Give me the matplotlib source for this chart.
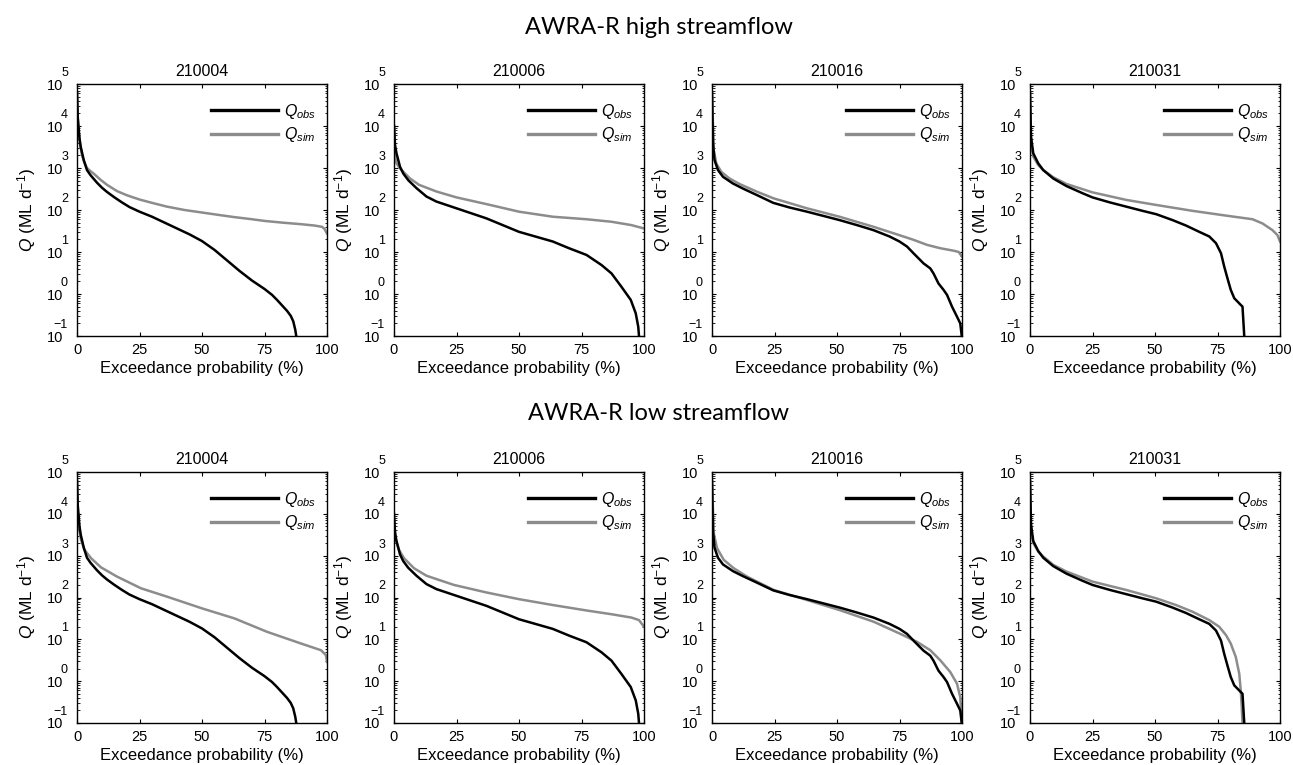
import numpy as np
import matplotlib
matplotlib.use("Agg")
import matplotlib.pyplot as plt
from matplotlib.ticker import FixedLocator, LogLocator, NullFormatter

plt.rcParams['font.family'] = ['Liberation Sans', 'DejaVu Sans']
plt.rcParams['mathtext.fontset'] = 'custom'
plt.rcParams['mathtext.rm'] = 'Liberation Sans'
plt.rcParams['mathtext.it'] = 'Liberation Sans:italic'

stations = ["210004", "210006", "210016", "210031"]
section_titles = ["AWRA-R high streamflow", "AWRA-R low streamflow"]
x_ticks = [0, 25, 50, 75, 100]
y_exponents = [-1, 0, 1, 2, 3, 4, 5]

# Observed flow-duration curves (exceedance %, log10 Q in ML/d)
obs_x = {
    "210004": [0, 0.3, 1, 1.5, 2.7, 4, 5.4, 8, 10, 12, 15, 18, 21, 25, 30, 35, 40, 45, 50, 55, 60, 65, 70, 75, 78, 80, 82, 84, 85.5, 86.5, 87.3, 87.7, 88],
    "210006": [0, 0.4, 1, 2.4, 3.7, 5.7, 9, 13, 17, 25, 37, 50, 63.5, 70, 77, 83, 87, 91, 94.7, 96.7, 97.7, 98, 98.3],
    "210016": [0, 0.4, 1, 2.4, 4.4, 8.4, 12.4, 17.8, 24.5, 31, 38, 44.5, 51, 58, 64.6, 71, 75, 78, 80.6, 84.6, 87.3, 88.6, 90.6, 92.6, 94, 96, 98, 99.3, 100],
    "210031": [0, 0.4, 1.3, 3.3, 5.3, 9.3, 14.6, 21, 25, 32, 38.5, 45, 50.5, 57, 62.4, 67.7, 71.7, 74.4, 76.4, 77.7, 79, 80.3, 81.7, 84.3, 85, 85.4, 85.7, 86],
}
obs_logq = {
    "210004": [4.78, 4.2, 3.7, 3.5, 3.19, 2.95, 2.83, 2.65, 2.53, 2.43, 2.3, 2.18, 2.07, 1.96, 1.84, 1.7, 1.56, 1.42, 1.26, 1.05, 0.8, 0.55, 0.32, 0.12, -0.02, -0.14, -0.27, -0.4, -0.52, -0.65, -0.85, -1.0, -1.3],
    "210006": [4.0, 3.55, 3.35, 3.03, 2.87, 2.71, 2.52, 2.32, 2.2, 2.04, 1.8, 1.48, 1.25, 1.09, 0.93, 0.69, 0.49, 0.17, -0.14, -0.46, -0.78, -1.0, -1.3],
    "210016": [4.78, 3.59, 3.19, 2.95, 2.79, 2.63, 2.51, 2.36, 2.17, 2.06, 1.96, 1.86, 1.76, 1.64, 1.52, 1.37, 1.25, 1.13, 0.97, 0.73, 0.61, 0.49, 0.25, 0.1, -0.02, -0.3, -0.54, -0.7, -1.05],
    "210031": [4.78, 3.75, 3.35, 3.11, 2.95, 2.75, 2.57, 2.4, 2.3, 2.18, 2.08, 1.98, 1.9, 1.76, 1.63, 1.48, 1.37, 1.21, 0.97, 0.65, 0.37, 0.1, -0.1, -0.26, -0.3, -0.7, -1.0, -1.3],
}

# Simulated flow-duration curves, high-streamflow calibration
sim_high_x = {
    "210004": [0, 0.3, 0.7, 1.3, 2, 3, 4, 5.5, 7, 9.4, 12, 16, 20, 25, 30, 36, 43, 50, 57, 63, 70, 75, 82, 90, 95, 98, 99, 100],
    "210006": [0, 0.4, 1, 2.4, 4.4, 6.4, 10, 17, 25, 37, 50, 63.5, 77, 87, 95, 100],
    "210016": [0, 0.7, 1.7, 3.7, 7, 11, 17.8, 24.5, 38, 51, 64.6, 75, 80.6, 86, 91.3, 96.7, 98.7, 100],
    "210031": [0, 0.4, 1.3, 3.3, 5.3, 9.3, 14.6, 25, 38.5, 50.5, 65, 78, 89, 93, 97, 99, 100],
}
sim_high_logq = {
    "210004": [4.78, 4.2, 3.85, 3.55, 3.3, 3.12, 3.0, 2.92, 2.85, 2.72, 2.6, 2.45, 2.35, 2.25, 2.17, 2.08, 2.0, 1.94, 1.88, 1.83, 1.78, 1.74, 1.7, 1.66, 1.63, 1.6, 1.55, 1.44],
    "210006": [4.0, 3.27, 3.11, 2.99, 2.87, 2.75, 2.6, 2.44, 2.3, 2.14, 1.96, 1.84, 1.78, 1.72, 1.64, 1.56],
    "210016": [4.78, 3.43, 3.11, 2.91, 2.75, 2.62, 2.44, 2.28, 2.04, 1.84, 1.6, 1.4, 1.29, 1.17, 1.09, 1.03, 1.0, 0.89],
    "210031": [4.78, 3.59, 3.27, 3.07, 2.95, 2.78, 2.62, 2.42, 2.24, 2.12, 1.98, 1.87, 1.78, 1.68, 1.52, 1.4, 1.25],
}

# Simulated flow-duration curves, low-streamflow calibration
sim_low_x = {
    "210004": [0, 0.5, 1.6, 3, 5.6, 9.6, 16, 25.6, 36, 50, 63, 76, 89.6, 97.6, 99.6, 100],
    "210006": [0, 0.7, 2, 4, 8, 13, 24, 37, 50, 63.5, 77, 87, 95, 98, 100],
    "210016": [0, 0.7, 2, 4.7, 8.7, 14, 24.7, 38, 51, 64.7, 75, 82, 87.3, 91.3, 95.3, 98, 99.3, 100],
    "210031": [0, 0.4, 1.3, 3.3, 5.3, 9.3, 14.6, 25, 38.5, 50.5, 58.4, 65, 71.7, 75.7, 78.4, 80.3, 82.3, 83.7, 84.3, 84.7, 85, 85.2],
}
sim_low_logq = {
    "210004": [4.8, 3.78, 3.38, 3.14, 2.94, 2.72, 2.5, 2.22, 2.02, 1.74, 1.5, 1.18, 0.9, 0.74, 0.62, 0.46],
    "210006": [3.86, 3.38, 3.14, 2.94, 2.7, 2.52, 2.3, 2.12, 1.96, 1.82, 1.69, 1.6, 1.52, 1.46, 1.3],
    "210016": [4.8, 3.54, 3.18, 2.9, 2.7, 2.5, 2.18, 1.94, 1.7, 1.42, 1.14, 0.94, 0.74, 0.5, 0.22, -0.06, -0.38, -1.05],
    "210031": [4.8, 3.62, 3.3, 3.1, 2.98, 2.78, 2.62, 2.38, 2.18, 1.98, 1.82, 1.66, 1.46, 1.3, 1.1, 0.9, 0.58, 0.18, -0.22, -0.62, -1.0, -1.3],
}

OBS_COLOR = "black"
SIM_COLOR = "#8c8c8c"

fig = plt.figure(figsize=(12.93, 7.65), dpi=100)

lefts = [77, 394, 712, 1030]
width_px = 250
rows = [(84, 336), (472, 723)]
W, H = 1293, 765

sim_sets = [(sim_high_x, sim_high_logq), (sim_low_x, sim_low_logq)]

for r, (top, bot) in enumerate(rows):
    sx, sy = sim_sets[r]
    for c, st in enumerate(stations):
        ax = fig.add_axes([lefts[c] / W, 1 - bot / H, width_px / W, (bot - top) / H])
        ax.plot(obs_x[st], 10 ** np.array(obs_logq[st]), color=OBS_COLOR, lw=1.8,
                label=r'$Q_{obs}$', zorder=3, solid_joinstyle='round')
        ax.plot(sx[st], 10 ** np.array(sy[st]), color=SIM_COLOR, lw=1.8,
                label=r'$Q_{sim}$', zorder=2, solid_joinstyle='round')
        ax.set_yscale('log')
        ax.set_xlim(0, 100)
        ax.set_ylim(1e-1, 1e5)
        ax.xaxis.set_major_locator(FixedLocator(x_ticks))
        ax.set_xticklabels([str(t) for t in x_ticks])
        ax.yaxis.set_major_locator(FixedLocator([10.0 ** e for e in y_exponents]))
        ax.set_yticklabels(['10'] * len(y_exponents), va='center_baseline')
        ax.yaxis.set_minor_locator(LogLocator(base=10, subs=np.arange(2, 10)))
        ax.yaxis.set_minor_formatter(NullFormatter())
        ax.tick_params(which='both', direction='in', top=True, right=True, labelsize=10.5)
        ax.tick_params(axis='x', pad=5)
        ax.tick_params(axis='y', pad=10)
        ax.tick_params(which='major', length=3, width=0.8)
        ax.tick_params(which='minor', length=1.8, width=0.6)
        # exponents of the decade labels
        for e in y_exponents:
            ax.annotate(str(e).replace('-', '\u2212'), xy=(0, 10.0 ** e),
                        xycoords=('axes fraction', 'data'),
                        xytext=(-6.5, 8), textcoords='offset points',
                        ha='right', va='center', fontsize=9)
        for s in ax.spines.values():
            s.set_linewidth(1.0)
        ax.set_title(st, fontsize=11.5, pad=6)
        ax.set_xlabel("Exceedance probability (%)", fontsize=12, labelpad=3)
        ax.set_ylabel(r'$Q$ (ML d$^{-1}$)', fontsize=12.5)
        ax.yaxis.set_label_coords(-0.155, 0.5)
        leg = ax.legend(loc='upper right', bbox_to_anchor=(0.955, 0.93), frameon=False,
                        handlelength=4.2, handletextpad=0.35, fontsize=11.5, labelspacing=0.3,
                        borderpad=0, borderaxespad=0)
        for line in leg.get_lines():
            line.set_linewidth(2.4)

fig.text(659 / W, 1 - 28 / H, section_titles[0], ha='center', va='center', fontsize=17, family='Lato')
fig.text(659 / W, 1 - 413 / H, section_titles[1], ha='center', va='center', fontsize=17, family='Lato')

fig.savefig("out.png", dpi=100)
